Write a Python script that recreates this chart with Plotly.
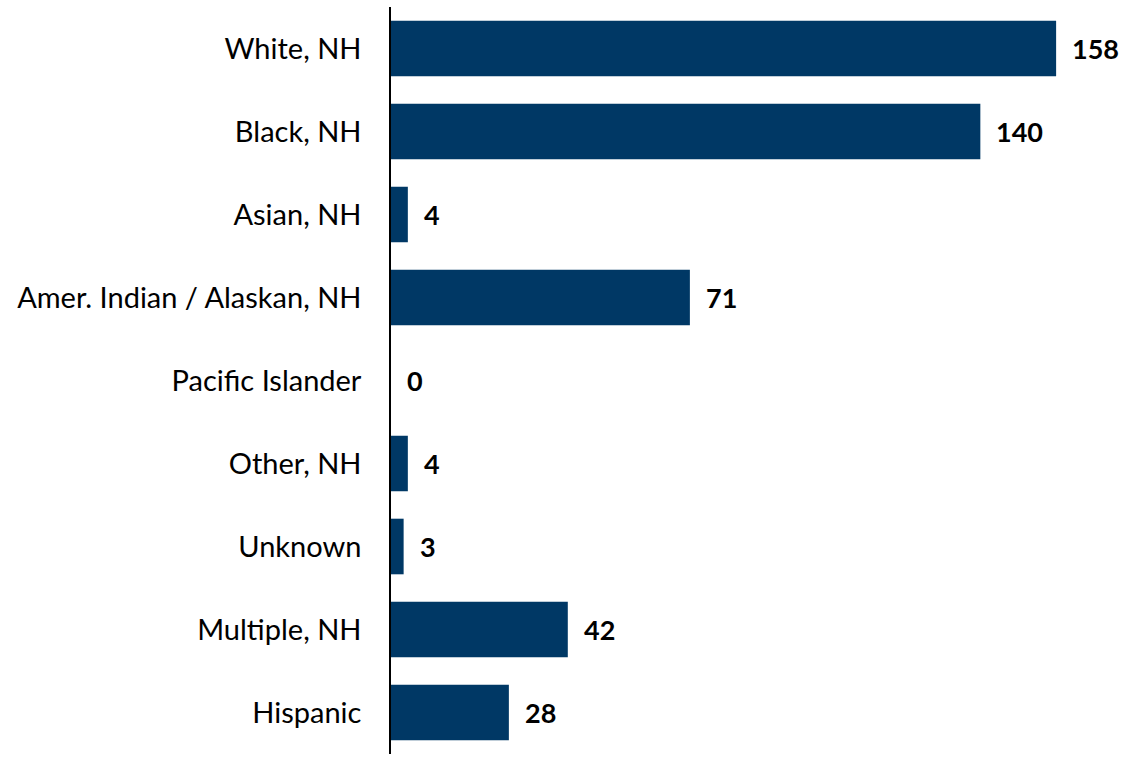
import plotly.graph_objects as go

categories = ["White, NH", "Black, NH", "Asian, NH", "Amer. Indian / Alaskan, NH",
              "Pacific Islander", "Other, NH", "Unknown", "Multiple, NH", "Hispanic"]
values = [158, 140, 4, 71, 0, 4, 3, 42, 28]

bar_color = "#003865"
font_family = "Lato, 'Open Sans', sans-serif"

fig = go.Figure()
fig.add_trace(go.Bar(
    x=values, y=categories, orientation="h",
    marker=dict(color=bar_color, line=dict(width=0)),
    hoverinfo="x+y",
))

for c, v in zip(categories, values):
    fig.add_annotation(
        x=v, y=c, text=f"<b>{v}</b>", showarrow=False,
        xanchor="left", yanchor="middle", xshift=14,
        font=dict(family=font_family, size=27, color="#000000"),
    )

fig.update_layout(
    width=1127, height=758,
    margin=dict(l=391, r=17, t=7, b=4),
    paper_bgcolor="white", plot_bgcolor="white",
    bargap=0.33,
    showlegend=False,
    font=dict(family=font_family, size=29, color="#000000"),
    xaxis=dict(range=[0, 170.8], visible=False, showgrid=False, zeroline=False),
    yaxis=dict(
        categoryorder="array", categoryarray=categories, autorange="reversed",
        showline=True, linecolor="#000000", linewidth=1.5,
        ticks="", showgrid=False, zeroline=False,
        ticklabelstandoff=22,
        tickfont=dict(family=font_family, size=29, color="#000000"),
    ),
)

fig.write_html(
    "out.html",
    config={"displayModeBar": False},
    post_script="document.body.style.margin='0';document.body.style.overflow='hidden';",
)
